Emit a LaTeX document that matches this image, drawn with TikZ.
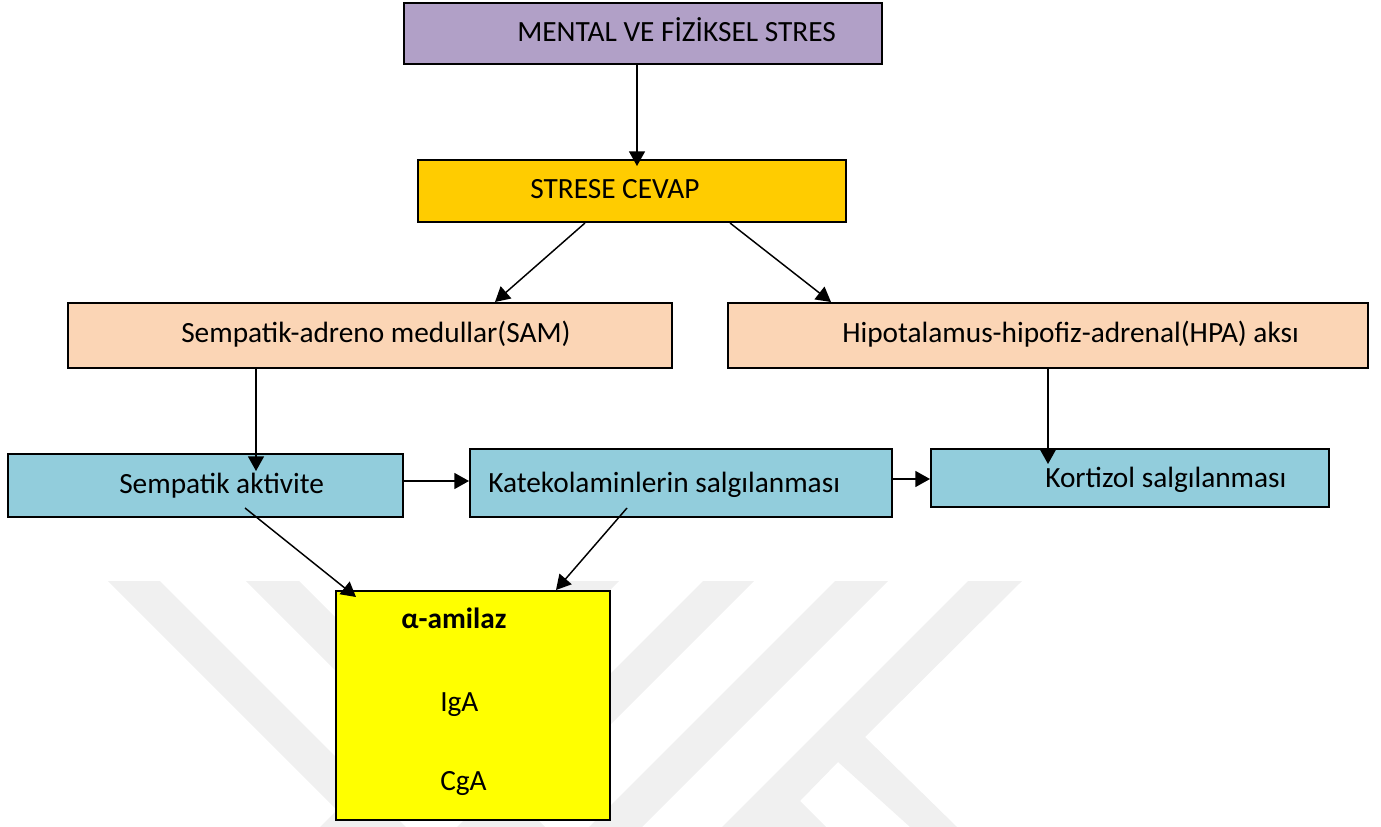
\documentclass[tikz,border=0pt]{standalone}
\usepackage{fontspec}
\setmainfont{Carlito}
\usetikzlibrary{arrows.meta,calc}
\definecolor{cmental}{RGB}{177,160,199}
\definecolor{cstres}{RGB}{255,204,0}
\definecolor{cpeach}{RGB}{251,213,181}
\definecolor{cblue}{RGB}{146,205,220}
\definecolor{cyel}{RGB}{255,255,0}
\definecolor{cwm}{RGB}{240,240,240}
\begin{document}
\begin{tikzpicture}[x=0.75pt,y=-0.75pt,
  box/.style={draw=black,line width=1.5pt,rectangle,inner sep=0pt},
  lbl/.style={inner sep=0pt,anchor=base west,font=\fontsize{22}{26}\selectfont},
  arr/.style={line width=1.1pt,-{Triangle[length=11pt,width=12pt]}},
  wm/.style={fill=cwm}]
\useasboundingbox (0,0) rectangle (1381,827);
% watermark
\fill[wm] (108,581) -- (160,581) -- (406,827) -- (354,827) -- cycle;
\fill[wm] (246,581) -- (299,581) -- (545,827) -- (492,827) -- cycle;
\fill[wm] (566,581) -- (619,581) -- (373,827) -- (320,827) -- cycle;
\fill[wm] (703,581) -- (754,581) -- (508,827) -- (457,827) -- cycle;
\fill[wm] (835,581) -- (888,581) -- (642,827) -- (589,827) -- cycle;
\fill[wm] (968,581) -- (1022,581) -- (865,737) -- (957,827) -- (910,827) -- (838,762) -- (800,801) -- (826,827) -- (722,827) -- cycle;
% boxes
\node[box,fill=cmental,minimum width=358.5pt,minimum height=45.75pt] (ms) at (643,33.5) {};
\node[box,fill=cstres,minimum width=321pt,minimum height=46.5pt] (sc) at (632,191) {};
\node[box,fill=cpeach,minimum width=453pt,minimum height=48.75pt] (sam) at (370,335.5) {};
\node[box,fill=cpeach,minimum width=480pt,minimum height=48.75pt] (hpa) at (1048,335.5) {};
\node[box,fill=cblue,minimum width=296.25pt,minimum height=47.25pt] (sa) at (205.5,485.5) {};
\node[box,fill=cblue,minimum width=316.5pt,minimum height=51pt] (kat) at (681,483) {};
\node[box,fill=cblue,minimum width=298.5pt,minimum height=43.5pt] (kor) at (1130,478) {};
\node[box,fill=cyel,minimum width=205.5pt,minimum height=171.75pt] (yel) at (473,705.5) {};
% texts
\node[lbl] (tms) at (517,42) {MENTAL VE FİZİKSEL STRES};
\node[lbl] (tsc) at (530,199) {STRESE CEVAP};
\node[lbl] (tsam) at (181,342) {Sempatik-adreno medullar(SAM)};
\node[lbl] (thpa) at (842,342) {Hipotalamus-hipofiz-adrenal(HPA) aksı};
\node[lbl] (tsa) at (119,493) {Sempatik aktivite};
\node[lbl] (tkat) at (488,492) {Katekolaminlerin salgılanması};
\node[lbl] (tkor) at (1045,487) {Kortizol salgılanması};
\node[lbl,font=\fontsize{22}{26}\selectfont\bfseries] (tamy) at (401,628) {α-amilaz};
\node[lbl] (tiga) at (440,711) {IgA};
\node[lbl] (tcga) at (440,790) {CgA};
% connectors
\draw[arr] ($(ms.south)+(-6,0)$) -- ($(sc.north)+(5,7)$);
\draw[arr] ($(sc.south)+(-47,0)$) -- ($(sam.north)+(125,0)$);
\draw[arr] ($(sc.south)+(98,0)$) -- ($(hpa.north)+(-217,0)$);
\draw[arr] ($(sam.south)+(-114,0)$) -- ($(sa.north)+(50.5,18)$);
\draw[arr] (hpa.south) -- ($(kor.north)+(-82,16)$);
\draw[arr] ($(sa.east)+(0,-4.5)$) -- ($(kat.west)+(0,-2)$);
\draw[arr] ($(kat.east)+(0,-4)$) -- ($(kor.west)+(0,1)$);
\draw[arr] ($(sa.south)+(39.5,-10)$) -- ($(yel.north west)+(21,7)$);
\draw[arr] ($(kat.south)+(-54,-10)$) -- ($(yel.north)+(83,0)$);
\end{tikzpicture}
\end{document}
